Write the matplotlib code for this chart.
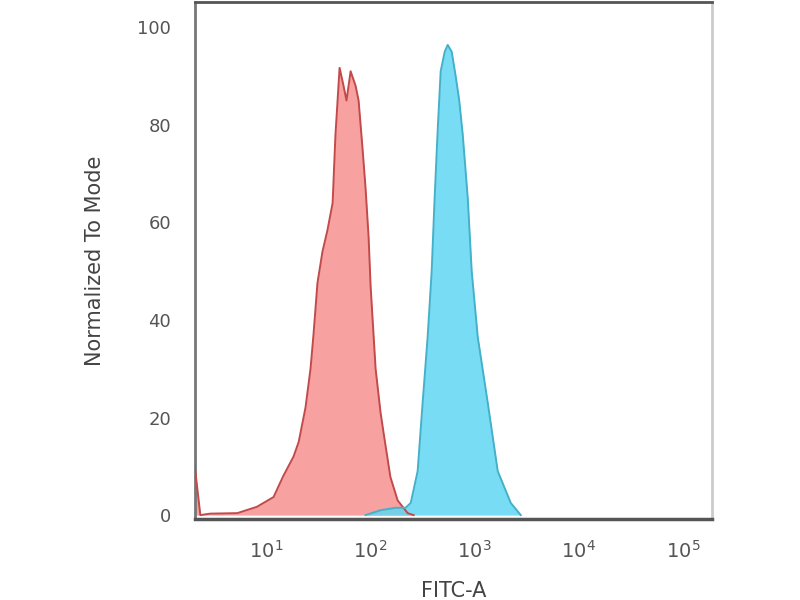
import matplotlib
matplotlib.use("Agg")
import matplotlib.pyplot as plt
from matplotlib.ticker import FixedLocator, FixedFormatter

# Isotype control (red) histogram: FITC-A intensity vs normalized count
red_x = [2.0, 2.32, 2.88, 5.25, 8.1, 11.7, 14.5, 18.2, 20.4, 23.7, 26.5, 28.3,
         30.9, 34.5, 38.6, 43.2, 46.0, 50.4, 55.0, 58.7, 64.3, 71.8, 76.7,
         83.8, 89.5, 95.7, 100, 111.7, 124.7, 133.4, 155, 182, 227, 259]
red_y = [12, 0, 0.3, 0.4, 1.7, 3.7, 8, 12, 15, 22, 30, 37,
         47.6, 54, 58.5, 64, 78, 91.7, 88, 85, 91, 88, 85,
         75, 67, 57, 47, 30, 21, 16.8, 7.8, 3, 0.4, 0]

# Stained sample (blue) histogram
blue_x = [89.5, 124.7, 174, 217, 243, 283, 316, 353, 386, 412, 441, 471,
          515, 550, 601, 656, 710, 767, 857, 935, 1069, 1334, 1663, 2218, 2767]
blue_y = [0, 1, 1.5, 1.5, 2.5, 9, 23, 36.5, 50, 65, 79, 91,
          95, 96.4, 95, 90, 85, 78, 65, 50, 36.5, 23, 9, 2.5, 0]

y_ticks = [0, 20, 40, 60, 80, 100]
x_ticks = [1e1, 1e2, 1e3, 1e4, 1e5]
x_tick_labels = [r"$10^{1}$", r"$10^{2}$", r"$10^{3}$", r"$10^{4}$", r"$10^{5}$"]

fig = plt.figure(figsize=(8, 6), dpi=100)
ax = fig.add_axes([0.244, 0.135, 0.646, 0.8617])

ax.fill_between(red_x, red_y, 0, color="#f89c9c", alpha=0.95, lw=0, zorder=2)
ax.plot(red_x, red_y, color="#c24a4a", lw=1.4, zorder=4)
ax.fill_between(blue_x, blue_y, 0, color="#60d8f3", alpha=0.85, lw=0, zorder=3)
ax.plot(blue_x, blue_y, color="#45b0ca", lw=1.4, zorder=5)

ax.set_xscale("log")
ax.set_xlim(2.07, 1.897e5)
ax.set_ylim(-0.8, 105.2)

ax.xaxis.set_major_locator(FixedLocator(x_ticks))
ax.xaxis.set_major_formatter(FixedFormatter(x_tick_labels))
ax.xaxis.set_minor_locator(FixedLocator([]))
ax.set_yticks(y_ticks)
ax.set_yticklabels([str(v) for v in y_ticks])

ax.tick_params(axis="both", length=0, labelcolor="#555555")
ax.tick_params(axis="x", pad=15, labelsize=14)
ax.tick_params(axis="y", pad=17.5, labelsize=13)

ax.set_xlabel("FITC-A", fontsize=15, color="#444444", labelpad=14)
ax.set_ylabel("Normalized To Mode", fontsize=15, color="#444444", labelpad=23)

ax.spines["left"].set_color("#777777")
ax.spines["left"].set_linewidth(2)
ax.spines["top"].set_color("#555555")
ax.spines["top"].set_linewidth(2)
ax.spines["right"].set_color("#cccccc")
ax.spines["right"].set_linewidth(2)
ax.spines["bottom"].set_color("#555555")
ax.spines["bottom"].set_linewidth(2.5)

fig.savefig("out.png", dpi=100)
